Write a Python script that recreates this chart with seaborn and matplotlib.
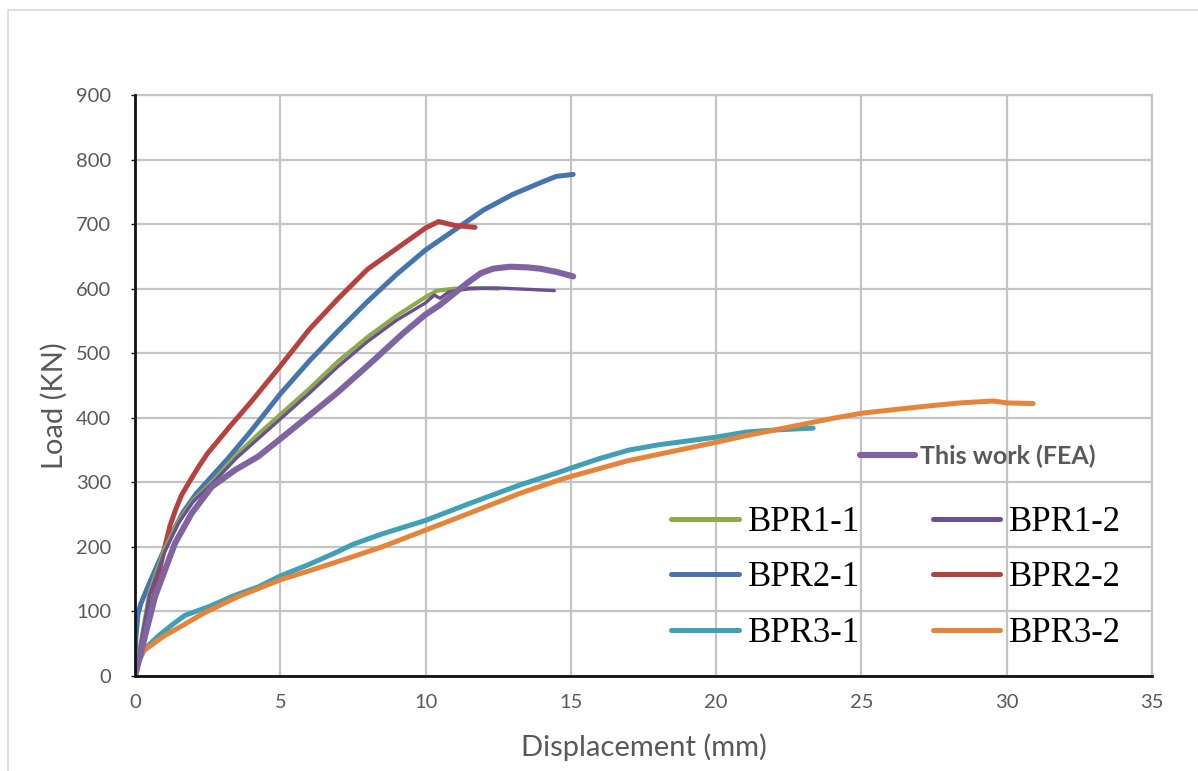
import numpy as np
import pandas as pd
import matplotlib
matplotlib.use("Agg")
import matplotlib.pyplot as plt
from matplotlib.lines import Line2D
import seaborn as sns

# ---------------- data ----------------
fea_x = [0, 0.34, 0.69, 1.03, 1.38, 1.95, 2.64, 3.44, 4.24, 5.16, 5.79, 6.94, 8.09, 9.23, 10.0, 10.5, 11.41, 11.9, 12.33, 12.9, 13.5, 13.94, 14.5, 15.08]
fea_y = [0, 61, 123, 164, 206, 252, 293, 319, 340, 373, 396, 438, 484, 531, 560, 575, 608, 624, 631, 634, 633, 631, 626, 619]

bpr11_x = [0, 0.5, 1.0, 1.5, 2.0, 2.7, 3.5, 4.3, 5.0, 6.0, 7.0, 8.0, 9.0, 10.0, 10.4, 11.0, 12.0, 12.5]
bpr11_y = [0, 130, 195, 240, 272, 303, 343, 377, 405, 445, 488, 525, 558, 587, 597, 600, 601, 600]

bpr12_x = [0, 0.5, 1.0, 1.5, 2.0, 2.7, 3.5, 4.3, 5.0, 6.0, 7.0, 8.0, 9.0, 10.0, 10.3, 10.5, 10.8, 11.5, 12.5, 13.5, 14.43]
bpr12_y = [0, 125, 190, 237, 270, 300, 338, 370, 398, 438, 480, 518, 551, 578, 590, 585, 595, 600, 601, 599, 597]

bpr21_x = [0, 0.03, 0.1, 0.2, 0.46, 0.8, 1.15, 1.66, 2.1, 2.52, 3.2, 4.0, 5.0, 6.0, 7.0, 8.0, 9.0, 10.0, 11.0, 12.0, 13.0, 14.0, 14.5, 15.08]
bpr21_y = [0, 60, 95, 112, 140, 175, 210, 254, 282, 303, 337, 380, 437, 488, 535, 580, 622, 660, 691, 722, 746, 765, 774, 777]

bpr22_x = [0, 0.5, 1.0, 1.2, 1.4, 1.6, 1.9, 2.2, 2.5, 3.2, 4.0, 5.0, 6.0, 7.0, 8.0, 9.0, 10.0, 10.45, 11.0, 11.7]
bpr22_y = [0, 95, 195, 232, 258, 280, 303, 325, 345, 383, 425, 480, 537, 585, 630, 662, 694, 704, 698, 695]

bpr31_x = [0, 0.15, 0.34, 0.8, 1.3, 1.72, 2.52, 3.44, 4.24, 5.0, 6.0, 7.0, 7.5, 8.5, 10.0, 11.5, 13.25, 14.62, 15.0, 16.0, 17.0, 18.0, 19.0, 20.0, 21.05, 22.0, 23.34]
bpr31_y = [0, 25, 42, 62, 80, 94, 107, 125, 138, 155, 173, 193, 204, 220, 241, 267, 296, 316, 322, 337, 350, 358, 364, 370, 378, 381, 384]

bpr32_x = [0, 0.17, 0.63, 1.0, 1.55, 2.35, 3.5, 5.0, 6.0, 7.51, 8.5, 10.0, 11.5, 13.25, 14.62, 15.0, 16.92, 18.5, 20.0, 21.0, 22.0, 23.0, 24.0, 25.0, 26.2, 27.24, 28.39, 29.54, 30.0, 30.91]
bpr32_y = [0, 35, 50, 62, 76, 97, 122, 149, 163, 185, 200, 226, 252, 283, 304, 309, 333, 348, 362, 372, 381, 390, 399, 407, 413, 418, 423, 426, 423, 422]

series_names = ["BPR1-1", "BPR1-2", "BPR2-1", "BPR2-2", "BPR3-1", "BPR3-2", "This work (FEA)"]
x_ticks = [0, 5, 10, 15, 20, 25, 30, 35]
y_ticks = [0, 100, 200, 300, 400, 500, 600, 700, 800, 900]

# ---------------- styles ----------------
colors = {
    "BPR1-1": "#8CAC4A",
    "BPR1-2": "#6A5090",
    "BPR2-1": "#4574AE",
    "BPR2-2": "#B5423F",
    "BPR3-1": "#3FA0B6",
    "BPR3-2": "#E6843A",
    "This work (FEA)": "#8064A2",
}
widths = {
    "BPR1-1": 3.0,
    "BPR1-2": 2.4,
    "BPR2-1": 3.6,
    "BPR2-2": 3.6,
    "BPR3-1": 3.6,
    "BPR3-2": 3.6,
    "This work (FEA)": 4.4,
}

frames = []
for name, xs, ys in [
    ("BPR3-1", bpr31_x, bpr31_y),
    ("BPR3-2", bpr32_x, bpr32_y),
    ("BPR2-1", bpr21_x, bpr21_y),
    ("BPR2-2", bpr22_x, bpr22_y),
    ("BPR1-1", bpr11_x, bpr11_y),
    ("BPR1-2", bpr12_x, bpr12_y),
    ("This work (FEA)", fea_x, fea_y),
]:
    frames.append(pd.DataFrame({"Displacement": xs, "Load": ys, "Series": name}))
df = pd.concat(frames, ignore_index=True)

sns.set_theme(style="white")
plt.rcParams["font.family"] = ["Lato", "DejaVu Sans"]

fig = plt.figure(figsize=(11.98, 7.71), dpi=100)
ax = fig.add_axes([135 / 1198, 1 - 676 / 771, (1152 - 135) / 1198, (676 - 95) / 771])

for name in ["BPR3-1", "BPR3-2", "BPR2-1", "BPR2-2", "BPR1-1", "BPR1-2", "This work (FEA)"]:
    sub = df[df["Series"] == name]
    sns.lineplot(data=sub, x="Displacement", y="Load", ax=ax, sort=False,
                 estimator=None, color=colors[name], linewidth=widths[name],
                 solid_capstyle="round", solid_joinstyle="round", legend=False, zorder=3)

ax.set_xlim(0, 35)
ax.set_ylim(0, 900)
ax.set_xticks(x_ticks)
ax.set_yticks(y_ticks)
ax.grid(True, color="#C4C4C4", linewidth=1.6, zorder=0)
ax.set_axisbelow(True)
for s in ["top", "right"]:
    ax.spines[s].set_color("#C4C4C4")
    ax.spines[s].set_linewidth(1.6)
for s in ["left", "bottom"]:
    ax.spines[s].set_color("#111111")
    ax.spines[s].set_linewidth(2.0)
    ax.spines[s].set_zorder(4)

ax.tick_params(axis="x", length=0, pad=13, labelsize=14.5, labelcolor="#595959")
ax.tick_params(axis="y", length=3, width=1, color="#111111", pad=14,
               labelsize=14.5, labelcolor="#595959", left=True)
ax.set_xlabel("Displacement (mm)", fontsize=21, color="#595959")
ax.set_ylabel("Load (KN)", fontsize=21, color="#595959")
ax.xaxis.set_label_coords(0.5, -0.098)
ax.yaxis.set_label_coords(-0.066, 0.466)

# ---------------- legends ----------------
fea_handle = [Line2D([0], [0], color=colors["This work (FEA)"], linewidth=4.4, solid_capstyle="round")]
leg1 = fig.legend(fea_handle, ["This work (FEA)"], loc="center",
                  bbox_to_anchor=(978 / 1198, 1 - 456 / 771), frameon=False,
                  prop={"family": ["Lato", "DejaVu Sans"], "weight": "bold", "size": 18},
                  handlelength=2.2, handletextpad=0.2, borderpad=0.2)
for t in leg1.get_texts():
    t.set_color("#595959")

bpr_order = ["BPR1-1", "BPR2-1", "BPR3-1", "BPR1-2", "BPR2-2", "BPR3-2"]
bpr_handles = [Line2D([0], [0], color=colors[n], linewidth=3.6, solid_capstyle="round") for n in bpr_order]
leg2 = fig.legend(bpr_handles, bpr_order, loc="center", ncol=2,
                  bbox_to_anchor=(896 / 1198, 1 - 578 / 771), frameon=False,
                  prop={"family": ["Liberation Serif", "DejaVu Serif"], "size": 25},
                  handlelength=1.95, handletextpad=0.25, columnspacing=2.1,
                  labelspacing=0.65, borderpad=0.2)
for t in leg2.get_texts():
    t.set_color("black")

# outer frame lines (top and left only, as in the reference)
fig.add_artist(Line2D([8 / 1198, 1.0], [1 - 10 / 771, 1 - 10 / 771], color="#D9D9D9", linewidth=1.2, transform=fig.transFigure))
fig.add_artist(Line2D([8 / 1198, 8 / 1198], [0.0, 1 - 10 / 771], color="#D9D9D9", linewidth=1.2, transform=fig.transFigure))

fig.savefig("out.png", dpi=100, facecolor="white")
